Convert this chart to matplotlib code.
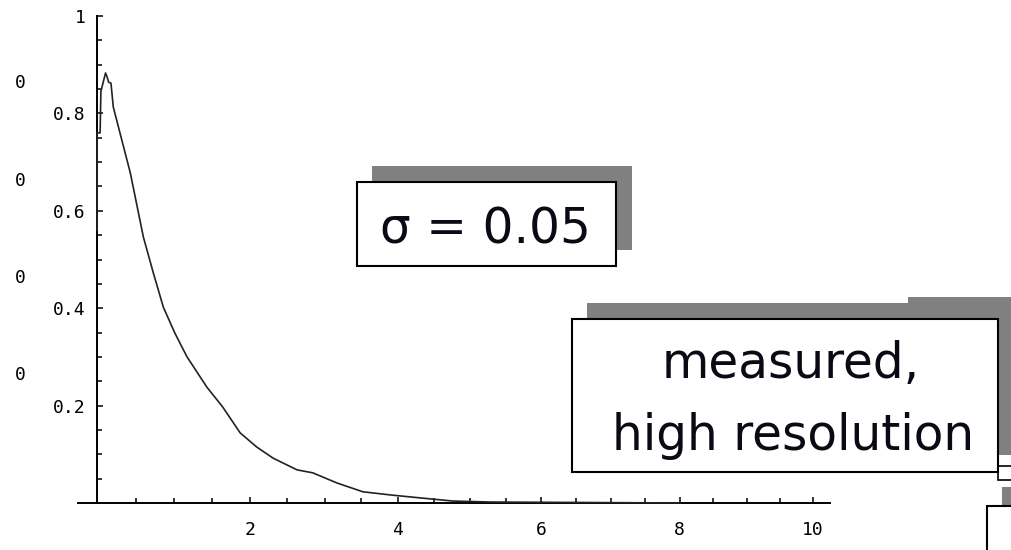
import matplotlib
matplotlib.use("Agg")
import numpy as np
import matplotlib.pyplot as plt
from matplotlib.patches import Rectangle

# measured response curve (x in units along the axis, y normalised)
curve_x = [0.0, 0.0, 0.04, 0.05, 0.11, 0.13, 0.15, 0.18, 0.21, 0.43, 0.60,
           0.73, 0.86, 1.01, 1.17, 1.43, 1.64, 1.87, 2.09, 2.31, 2.63,
           2.84, 3.17, 3.52, 3.93, 4.34, 4.76, 5.28, 8.01]
curve_y = [0.56, 0.76, 0.76, 0.845, 0.883, 0.875, 0.864, 0.862, 0.813, 0.678,
           0.546, 0.472, 0.402, 0.349, 0.300, 0.238, 0.197, 0.144, 0.115,
           0.092, 0.068, 0.062, 0.041, 0.023, 0.016, 0.010, 0.004, 0.002, 0.0]

x_major = [2, 4, 6, 8, 10]
x_minor = [i * 0.5 for i in range(1, 21)]
y_major = [0.2, 0.4, 0.6, 0.8, 1.0]
y_major_labels = ["0.2", "0.4", "0.6", "0.8", "1"]
y_minor = [i * 0.05 for i in range(1, 21)]
stray_labels = ["0", "0", "0", "0"]

W, H = 1012, 550
X0_PX, Y0_PX = 97, 503
PX_PER_Y = 487.0

# slightly compressed horizontal axis (pixels from the y axis)
A, B = 77.68, 0.608


def fwd(x):
    x = np.asarray(x, dtype=float)
    return A * x - B * x ** 2


def inv(p):
    p = np.asarray(p, dtype=float)
    return (A - np.sqrt(A ** 2 - 4 * B * p)) / (2 * B)


fig = plt.figure(figsize=(W / 100, H / 100), dpi=100)
ax = fig.add_axes([0, 0, 1, 1])
ax.set_xscale("function", functions=(fwd, inv))
ax.set_xlim(float(inv(-X0_PX)), float(inv(W - X0_PX)))
ax.set_ylim(-(H - Y0_PX) / PX_PER_Y, Y0_PX / PX_PER_Y)

for s in ["top", "right"]:
    ax.spines[s].set_visible(False)
ax.spines["left"].set_position(("data", 0))
ax.spines["bottom"].set_position(("data", 0))
ax.spines["left"].set_bounds(0, 1)
ax.spines["bottom"].set_bounds(-0.24, 10.26)
for s in ["left", "bottom"]:
    ax.spines[s].set_linewidth(1.4)
    ax.spines[s].set_zorder(1)

mono = "DejaVu Sans Mono"
ax.set_xticks(x_major)
ax.set_xticklabels([str(v) for v in x_major], family=mono, fontsize=13)
ax.set_xticks(x_minor, minor=True)
ax.xaxis.set_minor_formatter(plt.NullFormatter())
ax.set_yticks(y_major)
ax.set_yticklabels(y_major_labels, family=mono, fontsize=13)
ax.set_yticks(y_minor, minor=True)
ax.tick_params(axis="x", which="both", direction="in", pad=13, width=1.1)
ax.tick_params(axis="y", which="both", direction="in", pad=8.5, width=1.1)
ax.tick_params(which="major", length=4.5)
ax.tick_params(which="minor", length=3.5)

ax.plot(curve_x, curve_y, color="#222222", linewidth=1.2, zorder=2)

# leftover axis labels on the far left
for i, lab in enumerate(stray_labels):
    fig.text(20 / W, 1 - (83 + i * 97.5) / H, lab, family=mono, fontsize=13,
             ha="center", va="center")


def px_rect(x0, y0, x1, y1, **kw):
    r = Rectangle((x0 / W, 1 - y1 / H), (x1 - x0) / W, (y1 - y0) / H,
                  transform=fig.transFigure, **kw)
    fig.add_artist(r)


gray = "#808080"
ink = "#0a0a14"
# sigma box
px_rect(372, 166, 632, 250, facecolor=gray, edgecolor="none", zorder=5)
px_rect(357, 182, 616, 266, facecolor="white", edgecolor="black",
        linewidth=1.5, zorder=6)
fig.text(485 / W, 1 - 243 / H, "σ = 0.05", family="DejaVu Sans",
         fontsize=35, ha="center", va="baseline", color=ink, zorder=7)

# measured box
px_rect(587, 303, 1015, 455, facecolor=gray, edgecolor="none", zorder=5)
px_rect(908, 297, 1015, 310, facecolor=gray, edgecolor="none", zorder=5)
px_rect(572, 319, 998, 472, facecolor="white", edgecolor="black",
        linewidth=1.5, zorder=6)
fig.text(791 / W, 1 - 378 / H, "measured,", family="DejaVu Sans",
         fontsize=35, ha="center", va="baseline", color=ink, zorder=7)
fig.text(793 / W, 1 - 450 / H, "high resolution", family="DejaVu Sans",
         fontsize=35, ha="center", va="baseline", color=ink, zorder=7)

# neighbouring boxes cut off at the right edge
px_rect(998, 466, 1015, 480, facecolor="white", edgecolor="black",
        linewidth=1.2, zorder=4)
px_rect(1002, 487, 1015, 508, facecolor=gray, edgecolor="none", zorder=5)
px_rect(987, 506, 1015, 560, facecolor="white", edgecolor="black",
        linewidth=1.5, zorder=6)

fig.savefig("out.png", dpi=100)
